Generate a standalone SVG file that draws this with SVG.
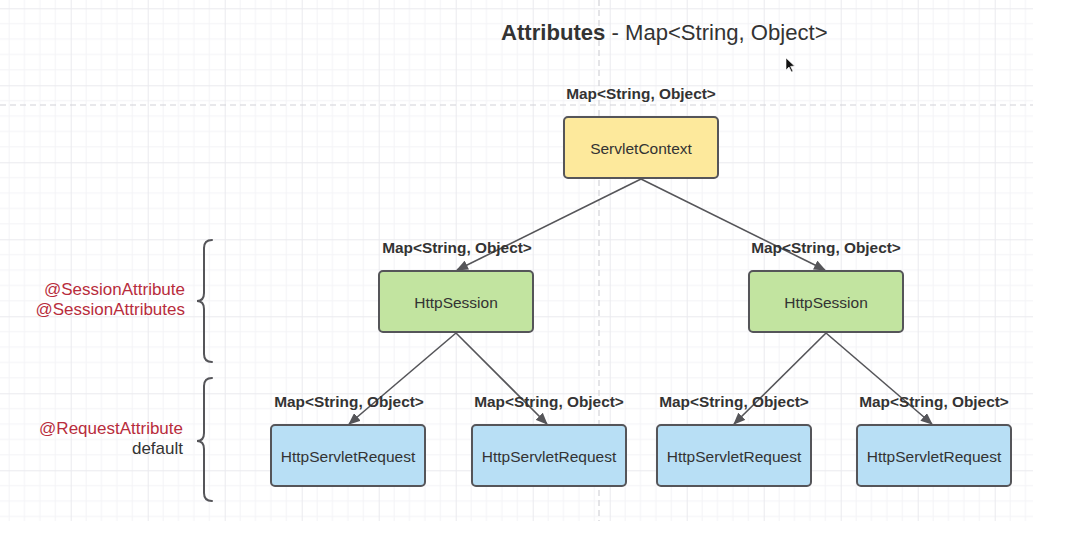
<svg xmlns="http://www.w3.org/2000/svg" width="1076" height="552" viewBox="0 0 1076 552">
  <style>
    .node { stroke: #555559; stroke-width: 2; }
    .ctx { fill: #fde99c; }
    .ses { fill: #c2e4a0; }
    .req { fill: #b8dff5; }
    .ntext { font-family: "Liberation Sans", Arial, sans-serif; font-size: 15.5px; fill: #333333; text-anchor: middle; }
    .lbl { font-family: "Liberation Sans", Arial, sans-serif; font-size: 15.4px; font-weight: bold; fill: #333333; text-anchor: middle; }
    .side { font-family: "Liberation Sans", Arial, sans-serif; font-size: 17px; text-anchor: end; }
    .red { fill: #b82c3c; }
    .dark { fill: #333333; }
    .edge { stroke: #555559; stroke-width: 1.6; fill: none; marker-end: url(#arrow); }
    .brace { stroke: #555559; stroke-width: 2; fill: none; stroke-linecap: round; }
    .guide { stroke: #d2d2d8; stroke-width: 1.2; stroke-dasharray: 6 4; }
  </style>
  <defs>
    <pattern id="grid" patternUnits="userSpaceOnUse" x="-6.3" y="8.3" width="77" height="77">
      <path d="M15.4 0V77M30.8 0V77M46.2 0V77M61.6 0V77M0 15.4H77M0 30.8H77M0 46.2H77M0 61.6H77" stroke="#f3f3f6" stroke-width="1" fill="none"/>
      <path d="M0.5 0V77M0 0.5H77" stroke="#eaeaee" stroke-width="1" fill="none"/>
    </pattern>
    <marker id="arrow" viewBox="0 0 12 10" refX="11" refY="5" markerWidth="12" markerHeight="10" markerUnits="userSpaceOnUse" orient="auto">
      <path d="M0 0L12 5L0 10Z" fill="#555559"/>
    </marker>
  </defs>

  <!-- canvas -->
  <rect width="1076" height="552" fill="#ffffff"/>
  <rect x="0" y="0" width="1033" height="521" fill="url(#grid)"/>
  <line class="guide" x1="0" y1="105" x2="1033" y2="105"/>
  <line class="guide" x1="599" y1="0" x2="599" y2="521"/>

  <!-- title -->
  <text x="501" y="40" font-family="Liberation Sans, Arial, sans-serif" font-size="22.1" fill="#333333"><tspan font-weight="bold">Attributes</tspan> - Map&lt;String, Object&gt;</text>

  <!-- connectors -->
  <g id="connectors">
    <line class="edge" x1="641" y1="179" x2="457" y2="270"/>
    <line class="edge" x1="641" y1="179" x2="825" y2="270"/>
    <line class="edge" x1="456" y1="333" x2="349" y2="424"/>
    <line class="edge" x1="456" y1="333" x2="547" y2="424"/>
    <line class="edge" x1="826" y1="333" x2="734" y2="424"/>
    <line class="edge" x1="826" y1="333" x2="932" y2="424"/>
  </g>

  <!-- edge labels -->
  <g id="labels">
    <text class="lbl" x="641" y="99">Map&lt;String, Object&gt;</text>
    <text class="lbl" x="457" y="253">Map&lt;String, Object&gt;</text>
    <text class="lbl" x="826" y="253">Map&lt;String, Object&gt;</text>
    <text class="lbl" x="349" y="407">Map&lt;String, Object&gt;</text>
    <text class="lbl" x="549" y="407">Map&lt;String, Object&gt;</text>
    <text class="lbl" x="734" y="407">Map&lt;String, Object&gt;</text>
    <text class="lbl" x="934" y="407">Map&lt;String, Object&gt;</text>
  </g>

  <!-- nodes -->
  <g id="servlet-context">
    <rect class="node ctx" x="564" y="117" width="154" height="61" rx="4"/>
    <text class="ntext" x="641" y="154">ServletContext</text>
  </g>
  <g id="session-left">
    <rect class="node ses" x="379" y="271" width="154" height="61" rx="4"/>
    <text class="ntext" x="456" y="308">HttpSession</text>
  </g>
  <g id="session-right">
    <rect class="node ses" x="749" y="271" width="154" height="61" rx="4"/>
    <text class="ntext" x="826" y="308">HttpSession</text>
  </g>
  <g id="request-1">
    <rect class="node req" x="271" y="425" width="154" height="61" rx="4"/>
    <text class="ntext" x="348" y="462">HttpServletRequest</text>
  </g>
  <g id="request-2">
    <rect class="node req" x="472" y="425" width="154" height="61" rx="4"/>
    <text class="ntext" x="549" y="462">HttpServletRequest</text>
  </g>
  <g id="request-3">
    <rect class="node req" x="657" y="425" width="154" height="61" rx="4"/>
    <text class="ntext" x="734" y="462">HttpServletRequest</text>
  </g>
  <g id="request-4">
    <rect class="node req" x="857" y="425" width="154" height="61" rx="4"/>
    <text class="ntext" x="934" y="462">HttpServletRequest</text>
  </g>

  <!-- scope braces and annotations -->
  <g id="session-scope">
    <path class="brace" d="M212 240Q204 240 204 248L204 293Q204 301 197 301Q204 301 204 309L204 354Q204 362 212 362"/>
    <text class="side red" x="185" y="295">@SessionAttribute</text>
    <text class="side red" x="185" y="315">@SessionAttributes</text>
  </g>
  <g id="request-scope">
    <path class="brace" d="M212 378Q204 378 204 386L204 433Q204 441 197 441Q204 441 204 449L204 493Q204 501 212 501"/>
    <text class="side red" x="183" y="434">@RequestAttribute</text>
    <text class="side dark" x="183" y="454">default</text>
  </g>

  <!-- pointer -->
  <path d="M786 58L786 70L789 67L791.5 72L793 71.3L790.6 66.4L794.5 66Z" fill="#111111" stroke="#ffffff" stroke-width="0.6"/>
</svg>
